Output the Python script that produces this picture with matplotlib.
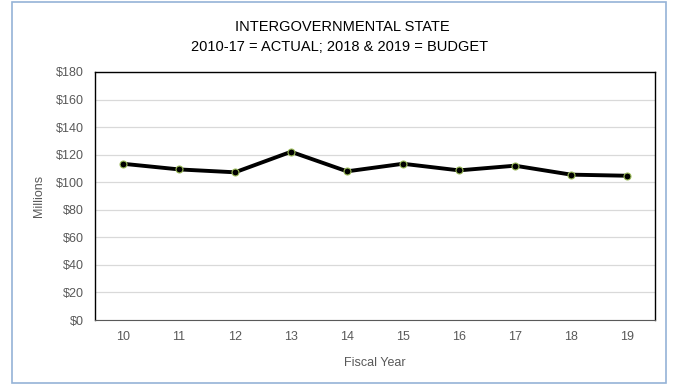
import matplotlib.pyplot as plt
from matplotlib.patches import Rectangle

plt.rcParams['font.family'] = ['Liberation Sans', 'DejaVu Sans']

years = ["10", "11", "12", "13", "14", "15", "16", "17", "18", "19"]
revenue = [113.4, 109.3, 107.2, 122.1, 107.9, 113.4, 108.6, 112.0, 105.5, 104.7]
yticks = [0, 20, 40, 60, 80, 100, 120, 140, 160, 180]

fig = plt.figure(figsize=(6.73, 3.85), dpi=100)
ax = fig.add_axes([0.1412, 0.1688, 0.8321, 0.6442])

# light blue chart border
fig.patches.append(Rectangle((0.018, 0.005), 0.971, 0.99, transform=fig.transFigure,
                             fill=False, edgecolor="#95B3D7", linewidth=1.2))

x = range(len(years))
ax.plot(x, revenue, color="black", linewidth=2.8, marker="o", markersize=5,
        markerfacecolor="black", markeredgecolor="#9BBB59", markeredgewidth=0.8, zorder=3)

ax.set_xlim(-0.5, len(years) - 0.5)
ax.set_ylim(0, 180)
ax.set_yticks(yticks)
ax.set_yticklabels(["$" + str(v) for v in yticks])
ax.set_xticks(list(x))
ax.set_xticklabels(years)
ax.tick_params(length=0, labelsize=9, colors="#595959", pad=8)
ax.grid(axis="y", color="#D9D9D9", linewidth=0.9)
ax.set_axisbelow(True)
for side in ["left", "right", "top"]:
    ax.spines[side].set_color("black")
    ax.spines[side].set_linewidth(1)
ax.spines["bottom"].set_color("#595959")

ax.set_ylabel("Millions", fontsize=9, color="#595959", labelpad=8)
ax.set_xlabel("Fiscal Year", fontsize=9, color="#595959", labelpad=10)

fig.text(0.508, 0.93, "INTERGOVERNMENTAL STATE", ha="center", va="center", fontsize=10.5, color="black")
fig.text(0.505, 0.878, "2010-17 = ACTUAL; 2018 & 2019 = BUDGET", ha="center", va="center",
         fontsize=10.5, color="black")

fig.savefig("out.png", dpi=100)
